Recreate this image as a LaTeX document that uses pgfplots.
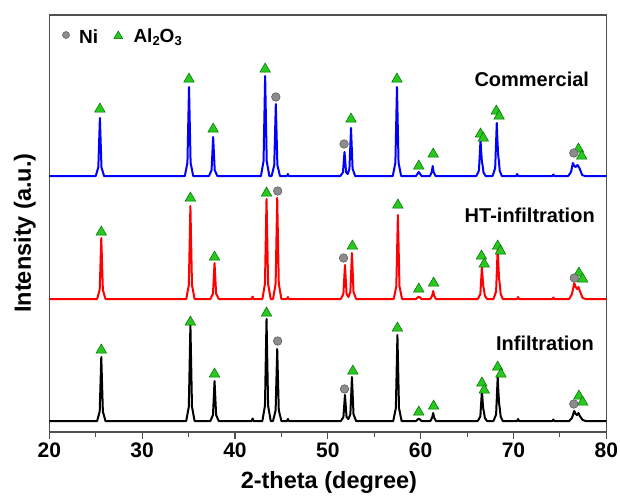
\documentclass[border=0pt]{standalone}
\usepackage{fontspec}
\setmainfont{Liberation Sans}
\usepackage{pgfplots}
\pgfplotsset{compat=1.18}

\definecolor{trifill}{RGB}{40,200,30}
\definecolor{triedge}{RGB}{0,110,0}
\definecolor{nifill}{RGB}{140,140,140}
\definecolor{niedge}{RGB}{85,85,85}
\definecolor{frame}{RGB}{80,80,80}

\pgfplotsset{
  tri/.style={only marks, mark=triangle*, mark size=6pt,
              mark options={fill=trifill, draw=triedge, line width=0.5pt}},
  nic/.style={only marks, mark=*, mark size=4.3pt,
              mark options={fill=nifill, draw=niedge, line width=0.5pt}},
}

\begin{document}
\begin{tikzpicture}
\path[use as bounding box] (-49.3pt,-67pt) rectangle (570.7pt,432pt);
\begin{axis}[
    at={(0,0)}, anchor=south west,
    scale only axis,
    width=557pt, height=417pt,
    xmin=20, xmax=80, ymin=0, ymax=417,
    xtick={20,30,...,80},
    minor x tick num=1,
    ytick=\empty,
    xtick pos=bottom,
    tick align=outside,
    major tick length=7pt,
    minor tick length=5pt,
    axis line style={frame, line width=1.3pt},
    every tick/.style={frame, line width=1.1pt},
    /pgf/number format/assume math mode=true,
    xticklabel style={font=\bfseries\fontsize{21}{21}\selectfont},
    xlabel={2-theta (degree)},
    ylabel={Intensity (a.u.)},
    xlabel style={font=\bfseries\fontsize{23.5}{24}\selectfont,
                  at={(axis description cs:0.502,-0.122)}, anchor=center},
    ylabel style={font=\bfseries\fontsize{23.5}{24}\selectfont,
                  at={(axis description cs:-0.044,0.477)}, anchor=center},
    clip=false,
]
% Commercial
\addplot[blue, line width=2pt, line join=round] coordinates {
(20,256)(25.00,256)(25.28,264.7)(25.37,290.8)(25.45,314)(25.53,290.8)(25.62,264.7)(25.90,256)
(34.60,256)(34.88,269.4)(34.97,309.4)(35.05,345)(35.13,309.4)(35.22,269.4)(35.50,256)
(37.20,256)(37.48,261.9)(37.57,279.4)(37.65,295)(37.73,279.4)(37.82,261.9)(38.10,256)
(42.80,256)(43.08,271)(43.17,316)(43.25,356)(43.33,316)(43.42,271)(43.70,256)
(43.95,256)(44.23,266.8)(44.32,299.2)(44.40,328)(44.48,299.2)(44.57,266.8)(44.85,256)
(45.6,256)(45.7,258)(45.8,256)
(51.35,256)(51.63,259.6)(51.72,270.4)(51.80,280)(51.88,270.4)(51.97,259.6)(52.15,258)
(52.33,263.2)(52.42,284.8)(52.50,304)(52.58,284.8)(52.67,263.2)(52.95,256)
(57.00,256)(57.28,269.4)(57.37,309.4)(57.45,345)(57.53,309.4)(57.62,269.4)(57.90,256)
(59.5,256)(59.8,260)(60.1,256)
(61.0,256)(61.2,260)(61.3,266)(61.4,260)(61.6,256)
(66.00,256)(66.28,261.4)(66.37,277.6)(66.45,292)(66.53,279.4)(66.60,270.4)(66.67,266.8)(66.77,259.6)(67.00,256)
(67.75,256)(68.03,264)(68.12,287.8)(68.20,309)(68.28,290.5)(68.35,277.2)(68.42,271.9)(68.52,261.3)(68.75,256)
(70.3,256)(70.4,258)(70.5,256)(74.2,256)(74.3,257.5)(74.4,256)
(75.9,256)(76.2,260)(76.4,269)(76.55,266)(76.7,265)(76.9,267)(77.1,264)(77.4,257)(77.7,256)(80,256)
};
% HT-infiltration
\addplot[red, line width=2pt, line join=round] coordinates {
(20,133)(25.15,133)(25.43,142.2)(25.52,169.6)(25.6,194)(25.68,169.6)(25.77,142.2)(26.05,133)
(34.75,133)(35.03,147)(35.12,188.8)(35.2,226)(35.28,188.8)(35.37,147)(35.65,133)
(37.35,133)(37.63,138.4)(37.72,154.6)(37.8,169)(37.88,154.6)(37.97,138.4)(38.25,133)
(41.8,133)(41.9,135.5)(42.0,133)
(42.95,133)(43.23,148)(43.32,193)(43.4,233)(43.48,193)(43.57,148)(43.85,133)
(44.10,133)(44.38,148.2)(44.47,193.6)(44.55,234)(44.63,193.6)(44.72,148.2)(45.00,133)
(45.6,133)(45.7,135)(45.8,133)
(51.40,133)(51.68,138.1)(51.77,153.4)(51.85,167)(51.93,153.4)(52.02,138.1)(52.22,135)
(52.43,139.9)(52.52,160.6)(52.6,179)(52.68,160.6)(52.77,139.9)(53.05,133)
(57.10,133)(57.38,145.6)(57.47,183.4)(57.55,217)(57.63,183.4)(57.72,145.6)(58.00,133)
(59.5,133)(59.8,135.5)(60.1,133)
(61.05,133)(61.25,136.5)(61.35,141)(61.45,136.5)(61.65,133)
(66.15,133)(66.43,137.8)(66.52,152.2)(66.6,165)(66.68,153.8)(66.75,145.8)(66.82,142.6)(66.92,136.2)(67.15,133)
(67.85,133)(68.13,140.7)(68.22,163.6)(68.3,184)(68.38,166.2)(68.45,153.4)(68.52,148.3)(68.62,138.1)(68.85,133)
(70.4,133)(70.5,135)(70.6,133)(74.2,133)(74.3,134.5)(74.4,133)
(76.0,133)(76.3,138)(76.55,149)(76.7,145)(76.85,143)(77.0,145)(77.15,141)(77.45,134)(77.8,133)(80,133)
};
% Infiltration
\addplot[black, line width=2pt, line join=round] coordinates {
(20,11)(25.15,11)(25.43,20.6)(25.52,49.4)(25.6,75)(25.68,49.4)(25.77,20.6)(26.05,11)
(34.75,11)(35.03,25.4)(35.12,68.6)(35.2,107)(35.28,68.6)(35.37,25.4)(35.65,11)
(37.35,11)(37.63,17)(37.72,35)(37.8,51)(37.88,35)(37.97,17)(38.25,11)
(41.8,11)(41.9,13.5)(42.0,11)
(42.95,11)(43.23,26.3)(43.32,72.2)(43.4,113)(43.48,72.2)(43.57,26.3)(43.85,11)
(44.10,11)(44.38,21.8)(44.47,54.2)(44.55,83)(44.63,54.2)(44.72,21.8)(45.00,11)
(45.6,11)(45.7,13)(45.8,11)
(51.40,11)(51.68,14.9)(51.77,26.6)(51.85,37)(51.93,26.6)(52.02,14.9)(52.22,13)
(52.43,17.6)(52.52,37.4)(52.6,55)(52.68,37.4)(52.77,17.6)(53.05,11)
(57.05,11)(57.33,23.9)(57.42,62.6)(57.5,97)(57.58,62.6)(57.67,23.9)(57.95,11)
(59.5,11)(59.8,13.5)(60.1,11)
(61.05,11)(61.25,14.5)(61.35,19)(61.45,14.5)(61.65,11)
(66.15,11)(66.43,15.5)(66.52,29)(66.6,41)(66.68,30.5)(66.75,23)(66.82,20)(66.92,14)(67.15,11)
(67.85,11)(68.13,17.6)(68.22,37.4)(68.3,55)(68.38,39.6)(68.45,28.6)(68.52,24.2)(68.62,15.4)(68.85,11)
(70.4,11)(70.5,13)(70.6,11)(74.2,11)(74.3,12.5)(74.4,11)
(76.0,11)(76.3,14)(76.55,21)(76.7,18)(76.85,17)(77.0,19)(77.15,16)(77.45,12)(77.8,11)(80,11)
};
% phase markers
\addplot[tri] coordinates {
(25.45,323)(35.05,353)(37.65,303)(43.25,363)(52.5,313)(57.45,353)(59.8,266)(61.35,278)
(66.45,298)(66.75,294)(68.15,321)(68.45,316)(77.0,283)(77.35,276)
};
\addplot[nic] coordinates {(44.4,335)(51.75,288)(76.5,279)};
\addplot[tri] coordinates {
(25.6,200)(35.2,234)(37.8,175)(43.4,239)(52.65,186)(57.55,227)(59.8,143)(61.4,149)
(66.55,176)(66.85,168)(68.3,186)(68.6,181)(77.05,159)(77.45,153)
};
\addplot[nic] coordinates {(44.6,241)(51.7,174)(76.55,154)};
\addplot[tri] coordinates {
(25.6,82)(35.2,110)(37.8,58)(43.4,119)(52.7,61)(57.5,104)(59.8,20)(61.4,26)
(66.6,49)(66.85,42)(68.3,65)(68.65,58)(77.05,36)(77.45,30)
};
\addplot[nic] coordinates {(44.6,91)(51.8,43)(76.5,28)};
% legend
\addplot[nic, mark size=3.5pt] coordinates {(21.8,397)};
\addplot[tri, mark size=5pt] coordinates {(27.43,396)};
\node[anchor=west, inner sep=0pt, font=\bfseries\fontsize{19}{19}\selectfont]
  at (axis cs:23.2,395) {Ni};
\node[anchor=west, inner sep=0pt, font=\bfseries\fontsize{19}{19}\selectfont]
  at (axis cs:29.05,395) {Al\raisebox{-0.35ex}{\fontsize{13}{13}\selectfont 2}O\raisebox{-0.35ex}{\fontsize{13}{13}\selectfont 3}};
% sample labels
\node[inner sep=0pt, font=\bfseries\fontsize{20}{20}\selectfont]
  at (axis cs:71.97,353) {Commercial};
\node[inner sep=0pt, font=\bfseries\fontsize{20}{20}\selectfont]
  at (axis cs:71.75,217) {HT-infiltration};
\node[inner sep=0pt, font=\bfseries\fontsize{20}{20}\selectfont]
  at (axis cs:73.4,89) {Infiltration};
\end{axis}
\end{tikzpicture}
\end{document}
